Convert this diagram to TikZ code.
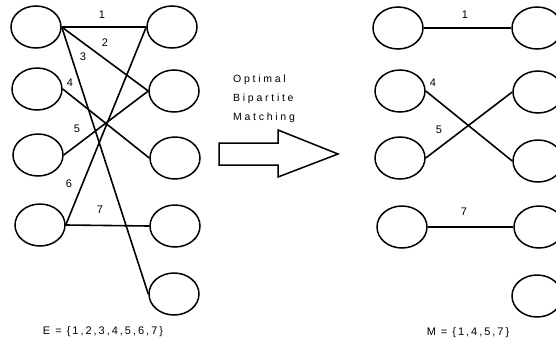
\documentclass[tikz,border=0pt]{standalone}
\usepackage{fontspec}
\setmainfont{Liberation Sans}[LetterSpace=18]
\newfontfamily\titlefont{Liberation Sans}[LetterSpace=26]
\usetikzlibrary{shapes.geometric}
\begin{document}
\begin{tikzpicture}[x=1pt,y=-1pt,
  vert/.style={draw,ellipse,line width=1.5pt,minimum width=50pt,minimum height=42pt,inner sep=0pt},
  edgeline/.style={line width=1.6pt},
  lab/.style={font=\fontsize{11}{13}\selectfont,inner sep=0pt},
  captext/.style={font=\fontsize{11}{13}\selectfont,inner sep=0pt}]
\useasboundingbox (0,0) rectangle (556,343);
\clip (0,0) rectangle (556,343);
% left graph
\node[vert] (L1) at (36,27) {};
\node[vert] (L2) at (37,89) {};
\node[vert] (L3) at (38,155) {};
\node[vert] (L4) at (40,225) {};
\node[vert] (R1) at (172,27) {};
\node[vert] (R2) at (174,91) {};
\node[vert] (R3) at (175,158) {};
\node[vert] (R4) at (175,226) {};
\node[vert] (R5) at (174,294) {};
\draw[edgeline] (L1.east) -- (R1.west);
\draw[edgeline] (L1.east) -- (R2.west);
\draw[edgeline] (L1.east) -- (R5.west);
\draw[edgeline] (L2.east) -- (R3.west);
\draw[edgeline] (L3.east) -- (R2.west);
\draw[edgeline] (L4.east) -- (R1.west);
\draw[edgeline] (L4.east) -- (R4.west);
\node[lab] (e1) at (102,15) {1};
\node[lab] (e2) at (105,43) {2};
\node[lab] (e3) at (83,57) {3};
\node[lab] (e4) at (70,83) {4};
\node[lab] (e5) at (77,129) {5};
\node[lab] (e6) at (69,184) {6};
\node[lab] (e7) at (100,210) {7};
\node[captext] (capE) at (103,332) {E = \{1,2,3,4,5,6,7\}};
% block arrow
\draw[line width=1.5pt,line join=miter] (219,143) -- (278,143) -- (278,130) -- (338,154) -- (278,177) -- (278,165) -- (219,165) -- cycle;
\node[inner sep=0pt,align=left,anchor=north west,font=\titlefont\fontsize{10.5}{19}\selectfont] (title) at (233,75) {Optimal\\Bipartite\\Matching};
% right graph
\node[vert] (ML1) at (398,28) {};
\node[vert] (ML2) at (400,91) {};
\node[vert] (ML3) at (400,158) {};
\node[vert] (ML4) at (402,227) {};
\node[vert] (MR1) at (537,28) {};
\node[vert] (MR2) at (538,92) {};
\node[vert] (MR3) at (538,161) {};
\node[vert] (MR4) at (539,227) {};
\node[vert] (MR5) at (537,296) {};
\draw[edgeline] (ML1.east) -- (MR1.west);
\draw[edgeline] (ML2.east) -- (MR3.west);
\draw[edgeline] (ML3.east) -- (MR2.west);
\draw[edgeline] (ML4.east) -- (MR4.west);
\node[lab] (m1) at (465,15) {1};
\node[lab] (m4) at (433,83) {4};
\node[lab] (m5) at (439,130) {5};
\node[lab] (m7) at (464,212) {7};
\node[captext] (capM) at (468,333) {M = \{1,4,5,7\}};
\end{tikzpicture}
\end{document}
